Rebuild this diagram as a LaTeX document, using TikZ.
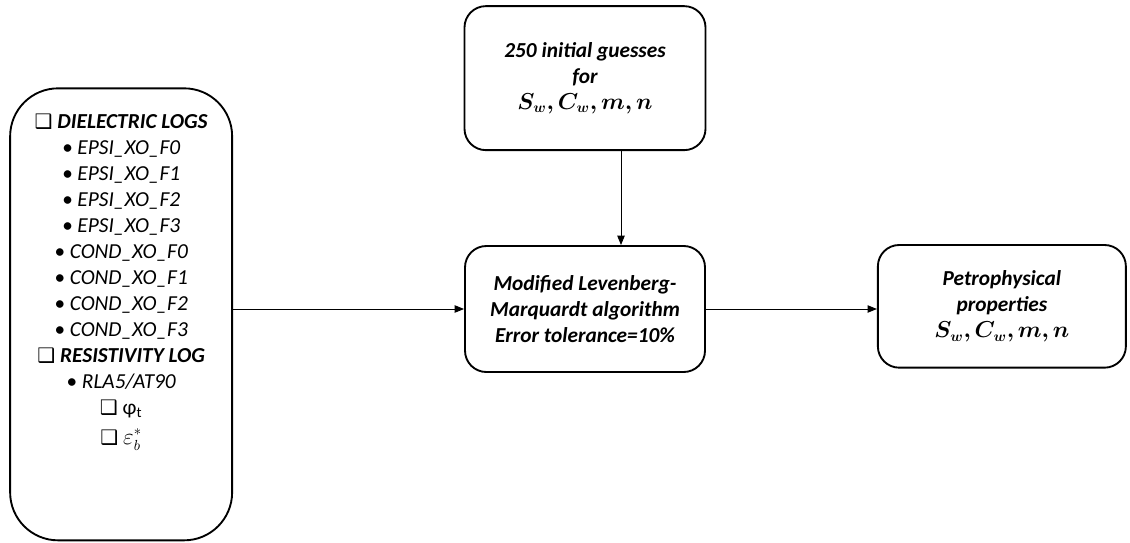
\documentclass[tikz,border=0pt]{standalone}
\usepackage{amsmath,amssymb,bm}
\usepackage{fontspec}
\setmainfont{Carlito}
\newfontfamily\boxsym{DejaVu Sans}
\usetikzlibrary{arrows.meta,positioning}

\newcommand{\chkbox}{{\boxsym\bfseries\fontsize{15}{15}\selectfont ❑}}

\begin{document}
\begin{tikzpicture}[
  x=0.75pt, y=-0.75pt,
  block/.style={rectangle, rounded corners=16pt, draw=black, line width=1.4pt,
                align=center, inner sep=4pt,
                font=\fontsize{16}{19.5}\selectfont\bfseries\itshape},
  inbox/.style={rectangle, rounded corners=36pt, draw=black, line width=1.4pt,
                align=center, inner sep=6pt, minimum width=166.5pt,
                font=\fontsize{16}{19.5}\selectfont\itshape},
  arr/.style={-{Triangle[length=7pt,width=5.5pt]}, line width=0.75pt, black}
]
\useasboundingbox (0,0) rectangle (1130,542);
\node[block, minimum width=180pt, minimum height=94.5pt] (lm) at (585,309)
  {Modified Levenberg-\\Marquardt algorithm\\Error tolerance=10\%};
\node[block, minimum width=180.75pt, minimum height=108pt, above=70.5pt of lm] (guess)
  {250 initial guesses\\for\\$\bm{S_w, C_w, m, n}$};
\node[block, minimum width=186pt, minimum height=92pt, right=128.25pt of lm, yshift=2pt] (props)
  {Petrophysical\\properties\\$\bm{S_w, C_w, m, n}$};
\node[inbox, left=173.25pt of lm, yshift=-4pt] (logs)
  {\rule{0pt}{24pt}\chkbox\ \textbf{DIELECTRIC LOGS}\\
   • EPSI\_XO\_F0\\
   • EPSI\_XO\_F1\\
   • EPSI\_XO\_F2\\
   • EPSI\_XO\_F3\\
   • COND\_XO\_F0\\
   • COND\_XO\_F1\\
   • COND\_XO\_F2\\
   • COND\_XO\_F3\\
   \chkbox\ \textbf{RESISTIVITY LOG}\\
   • RLA5/AT90\\
   \chkbox\ {\upshape φ\textsubscript{t}}\\[3pt]
   \chkbox\ $\varepsilon_b^*$\rule[-66pt]{0pt}{0pt}};
% connectors
\draw[arr] ([xshift=27pt]guess.south) -- ([xshift=27pt]lm.north);
\draw[arr] (logs.east |- lm.west) -- (lm.west);
\draw[arr] (lm.east) -- (lm.east -| props.west);
\end{tikzpicture}
\end{document}
